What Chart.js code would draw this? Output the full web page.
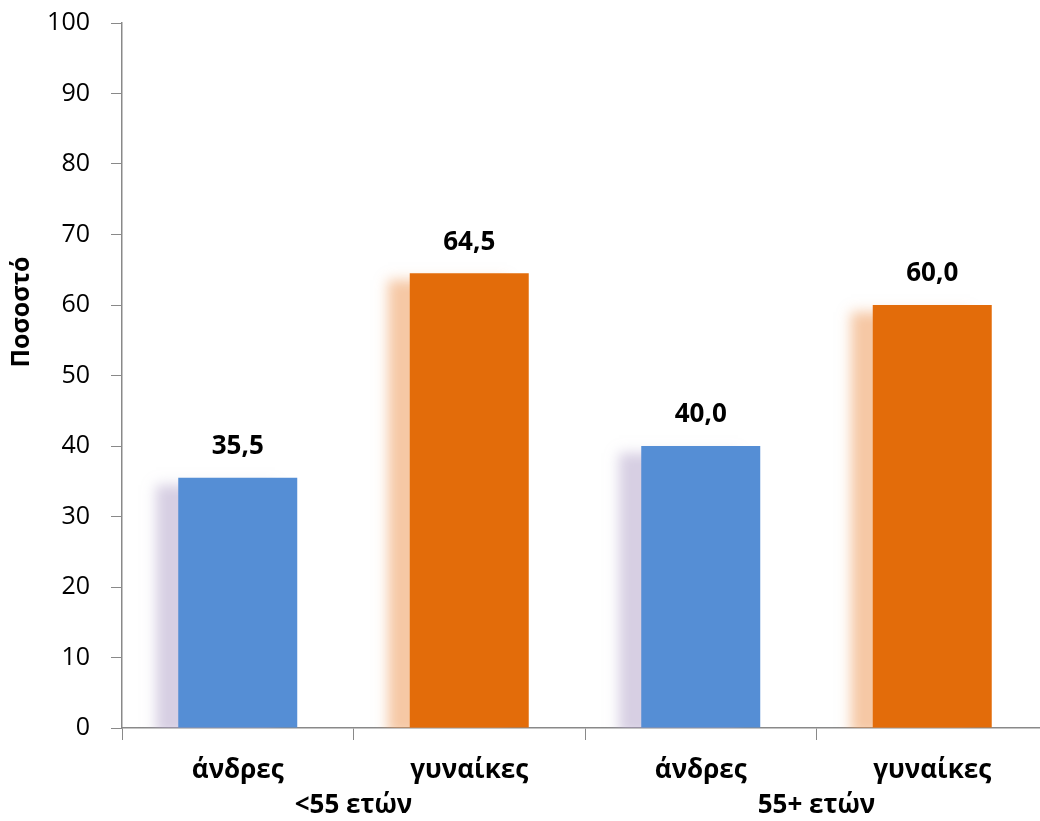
<!DOCTYPE html>
<html>
<head>
<meta charset="utf-8">
<script src="https://cdn.jsdelivr.net/npm/chart.js@4"></script>
<style>
  html, body { margin: 0; padding: 0; background: #fff; overflow: hidden; }
  #wrap { position: absolute; left: 0; top: 0; width: 1060px; height: 821px; }
</style>
</head>
<body>
<div id="wrap"><canvas id="barChart"></canvas></div>
<script>
// Data
const barLabels = ['άνδρες', 'γυναίκες', 'άνδρες', 'γυναίκες'];
const groupLabels = ['<55 ετών', '55+ ετών'];
const values = [35.5, 64.5, 40.0, 60.0];
const yTicks = [0, 10, 20, 30, 40, 50, 60, 70, 80, 90, 100];

const FONT = "'Open Sans', 'Noto Sans', sans-serif";
const axisGray = '#898989';

// one dataset per gender so each gets its own shadow colour
const menData = values.map((v, i) => barLabels[i] === 'άνδρες' ? v : null);
const womenData = values.map((v, i) => barLabels[i] === 'γυναίκες' ? v : null);

const shadowPlugin = {
    id: 'barShadow',
    beforeDatasetDraw(chart, args) {
        const ctx = chart.ctx;
        ctx.save();
        ctx.shadowColor = args.index === 0 ? 'rgba(175, 160, 200, 0.5)' : 'rgba(238, 145, 75, 0.5)';
        ctx.shadowBlur = 12;
        ctx.shadowOffsetX = -22;
        ctx.shadowOffsetY = 7;
    },
    afterDatasetDraw(chart) {
        chart.ctx.restore();
    }
};

const valueLabels = {
    id: 'valueLabels',
    afterDatasetsDraw(chart) {
        const ctx = chart.ctx;
        ctx.save();
        ctx.font = `bold 26px ${FONT}`;
        ctx.fillStyle = '#000';
        ctx.textAlign = 'center';
        ctx.textBaseline = 'middle';
        chart.data.datasets.forEach((ds, di) => {
            chart.getDatasetMeta(di).data.forEach((bar, i) => {
                if (ds.data[i] === null) return;
                ctx.fillText(ds.data[i].toFixed(1).replace('.', ','), bar.x, bar.y - 31);
            });
        });
        ctx.restore();
    }
};

const yTitle = {
    id: 'yTitle',
    afterDraw(chart) {
        const ctx = chart.ctx;
        ctx.save();
        ctx.translate(22, 312);
        ctx.rotate(-Math.PI / 2);
        ctx.font = `bold 25px ${FONT}`;
        ctx.fillStyle = '#000';
        ctx.textAlign = 'center';
        ctx.textBaseline = 'middle';
        ctx.fillText('Ποσοστό', 0, 0);
        ctx.restore();
    }
};

const noPad = (s) => {
    s.paddingTop = 0; s.paddingBottom = 0;
    s.paddingLeft = 0; s.paddingRight = 0;
};

const chart = document.getElementById('barChart').getContext('2d');

const config = {
    type: 'bar',
    data: {
        labels: barLabels,
        datasets: [
            {
                label: 'άνδρες',
                data: menData,
                backgroundColor: '#558ED5',
                borderWidth: 0,
            },
            {
                label: 'γυναίκες',
                data: womenData,
                backgroundColor: '#E36C0A',
                borderWidth: 0,
            }
        ]
    },
    options: {
        responsive: true,
        maintainAspectRatio: false,
        animation: false,
        grouped: false,
        barPercentage: 0.514,
        categoryPercentage: 1,
        layout: { padding: { top: 23, right: 12, left: 0, bottom: 0 } },
        plugins: {
            legend: { display: false },
            tooltip: { enabled: false },
        },
        scales: {
            x: {
                position: 'bottom',
                weight: 0,
                offset: true,
                grid: {
                    drawOnChartArea: false,
                    color: axisGray,
                    tickLength: 12,
                    offset: true,
                },
                border: { color: axisGray, width: 1.5 },
                ticks: {
                    color: '#000',
                    font: { family: FONT, size: 26, weight: 'bold' },
                    padding: 15,
                    maxRotation: 0,
                },
                afterFit: (s) => { s.height = 58; noPad(s); },
            },
            group: {
                type: 'category',
                position: 'bottom',
                weight: 1,
                labels: groupLabels,
                offset: true,
                grid: { display: false, drawTicks: false },
                border: { display: false },
                ticks: {
                    color: '#000',
                    font: { family: FONT, size: 26, weight: 'bold' },
                    padding: 4,
                    maxRotation: 0,
                },
                afterFit: (s) => { s.height = 35; noPad(s); },
            },
            y: {
                min: 0,
                max: 100,
                afterBuildTicks: (s) => { s.ticks = yTicks.map(v => ({ value: v })); },
                grid: {
                    drawOnChartArea: false,
                    color: axisGray,
                    tickLength: 11,
                },
                border: { color: axisGray, width: 1.5 },
                ticks: {
                    color: '#000',
                    font: { family: FONT, size: 25 },
                    padding: 21,
                },
                afterFit: (s) => { s.width = 122; noPad(s); },
            }
        }
    },
    plugins: [shadowPlugin, valueLabels, yTitle]
};

new Chart(chart, config);
</script>
</body>
</html>
